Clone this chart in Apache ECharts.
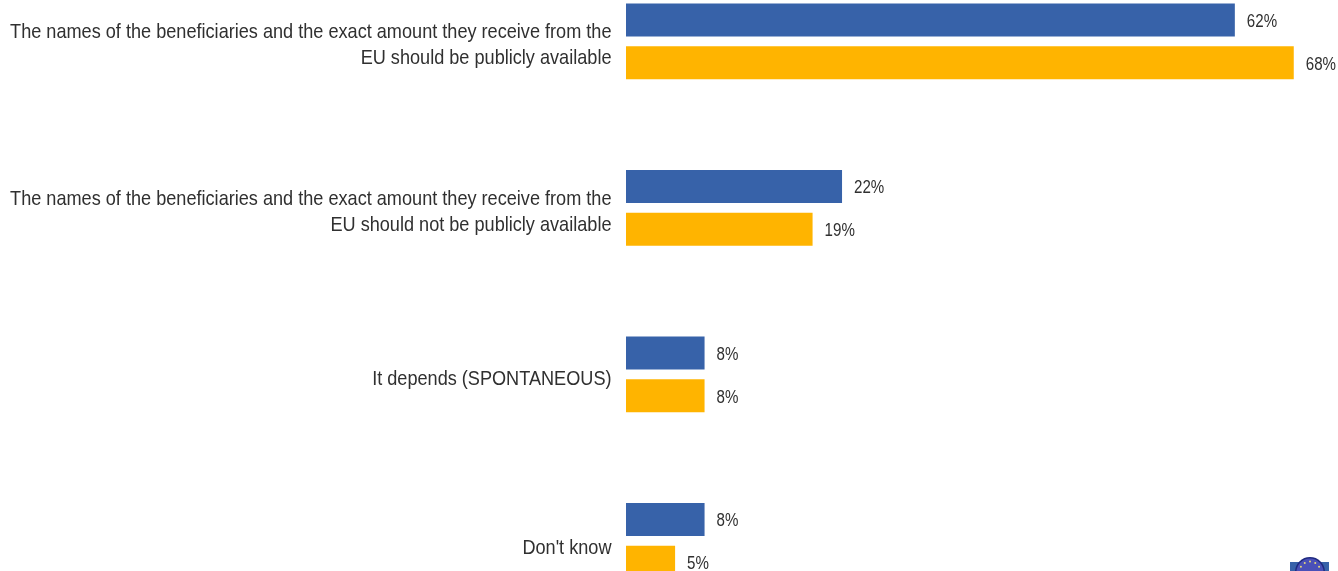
<!DOCTYPE html>
<html>
<head>
<meta charset="utf-8">
<style>html,body{margin:0;padding:0;background:#fff}#chart{width:1338px;height:571px}</style>
<script src="https://cdn.jsdelivr.net/npm/echarts@6/dist/echarts.min.js"></script>
</head>
<body>
<div id="chart"></div>
<script>
const categories = [
  "The names of the beneficiaries and the exact amount they receive from the\nEU should be publicly available",
  "The names of the beneficiaries and the exact amount they receive from the\nEU should not be publicly available",
  "It depends (SPONTANEOUS)",
  "Don't know"
];
const blueValues = [62, 22, 8, 8];
const orangeValues = [68, 19, 8, 5];

const blue = "#3762A9";
const orange = "#FFB400";
const ink = "#303030";
const fontName = "Liberation Sans";
const captionCondense = 0.863;
const valueCondense = 0.84;
const barHeight = 33;
const barSpacing = 43;
const labelNudge = [4, 4.5, 5, 7];
const valueNudge = 2;

const chart = echarts.init(document.getElementById("chart"), null, {renderer: "canvas"});

function barSeries(values, color) {
  return {
    type: "bar",
    data: values,
    barWidth: barHeight,
    barGap: "30%",
    itemStyle: {color: color},
    silent: true
  };
}

// Condensed category captions, right-aligned against the axis
function categoryCaption(params, api) {
  const i = api.value(1);
  const p = api.coord([0, i]);
  return {
    type: "text",
    x: p[0] - 14.5,
    y: p[1] + labelNudge[i],
    scaleX: captionCondense,
    style: {
      text: categories[i],
      fill: ink,
      font: "21px '" + fontName + "'",
      align: "right",
      verticalAlign: "middle",
      lineHeight: 25.5
    }
  };
}

// Condensed percentage next to the end of each bar
function valueCaption(shift) {
  return function (params, api) {
    const p = api.coord([api.value(0), api.value(1)]);
    return {
      type: "text",
      x: p[0] + 12,
      y: p[1] + shift + valueNudge,
      scaleX: valueCondense,
      style: {
        text: api.value(0) + "%",
        fill: ink,
        font: "18px '" + fontName + "'",
        align: "left",
        verticalAlign: "middle"
      }
    };
  };
}

function captionSeries(rows, render) {
  return {
    type: "custom",
    data: rows,
    encode: {x: 0, y: 1},
    renderItem: render,
    clip: false,
    silent: true
  };
}

// EU emblem in the lower right corner
const stars = [];
for (let i = 0; i < 12; i++) {
  const a = i * Math.PI / 6;
  stars.push({
    type: "circle",
    shape: {cx: 1310 + 10.5 * Math.cos(a), cy: 572 + 10.5 * Math.sin(a), r: 1},
    style: {fill: "#E8D878"}
  });
}

chart.setOption({
  animation: false,
  backgroundColor: "#fff",
  grid: {left: 626, top: -41.9, width: 687.4, height: 666, outerBoundsMode: "none"},
  xAxis: {type: "value", min: 0, max: 70, show: false},
  yAxis: {
    type: "category",
    inverse: true,
    data: categories,
    axisLine: {show: false},
    axisTick: {show: false},
    axisLabel: {show: false}
  },
  series: [
    barSeries(blueValues, blue),
    barSeries(orangeValues, orange),
    captionSeries(categories.map((c, i) => [0, i]), categoryCaption),
    captionSeries(blueValues.map((v, i) => [v, i]), valueCaption(-barSpacing / 2)),
    captionSeries(orangeValues.map((v, i) => [v, i]), valueCaption(barSpacing / 2))
  ],
  graphic: [
    {type: "rect", shape: {x: 1290, y: 562, width: 39, height: 12}, style: {fill: "#3762A9"}},
    {type: "circle", shape: {cx: 1310, cy: 572, r: 15}, style: {fill: "#1F2A80"}},
    {type: "circle", shape: {cx: 1310, cy: 572, r: 13.5}, style: {fill: "#4A50B8"}}
  ].concat(stars)
});
</script>
</body>
</html>
